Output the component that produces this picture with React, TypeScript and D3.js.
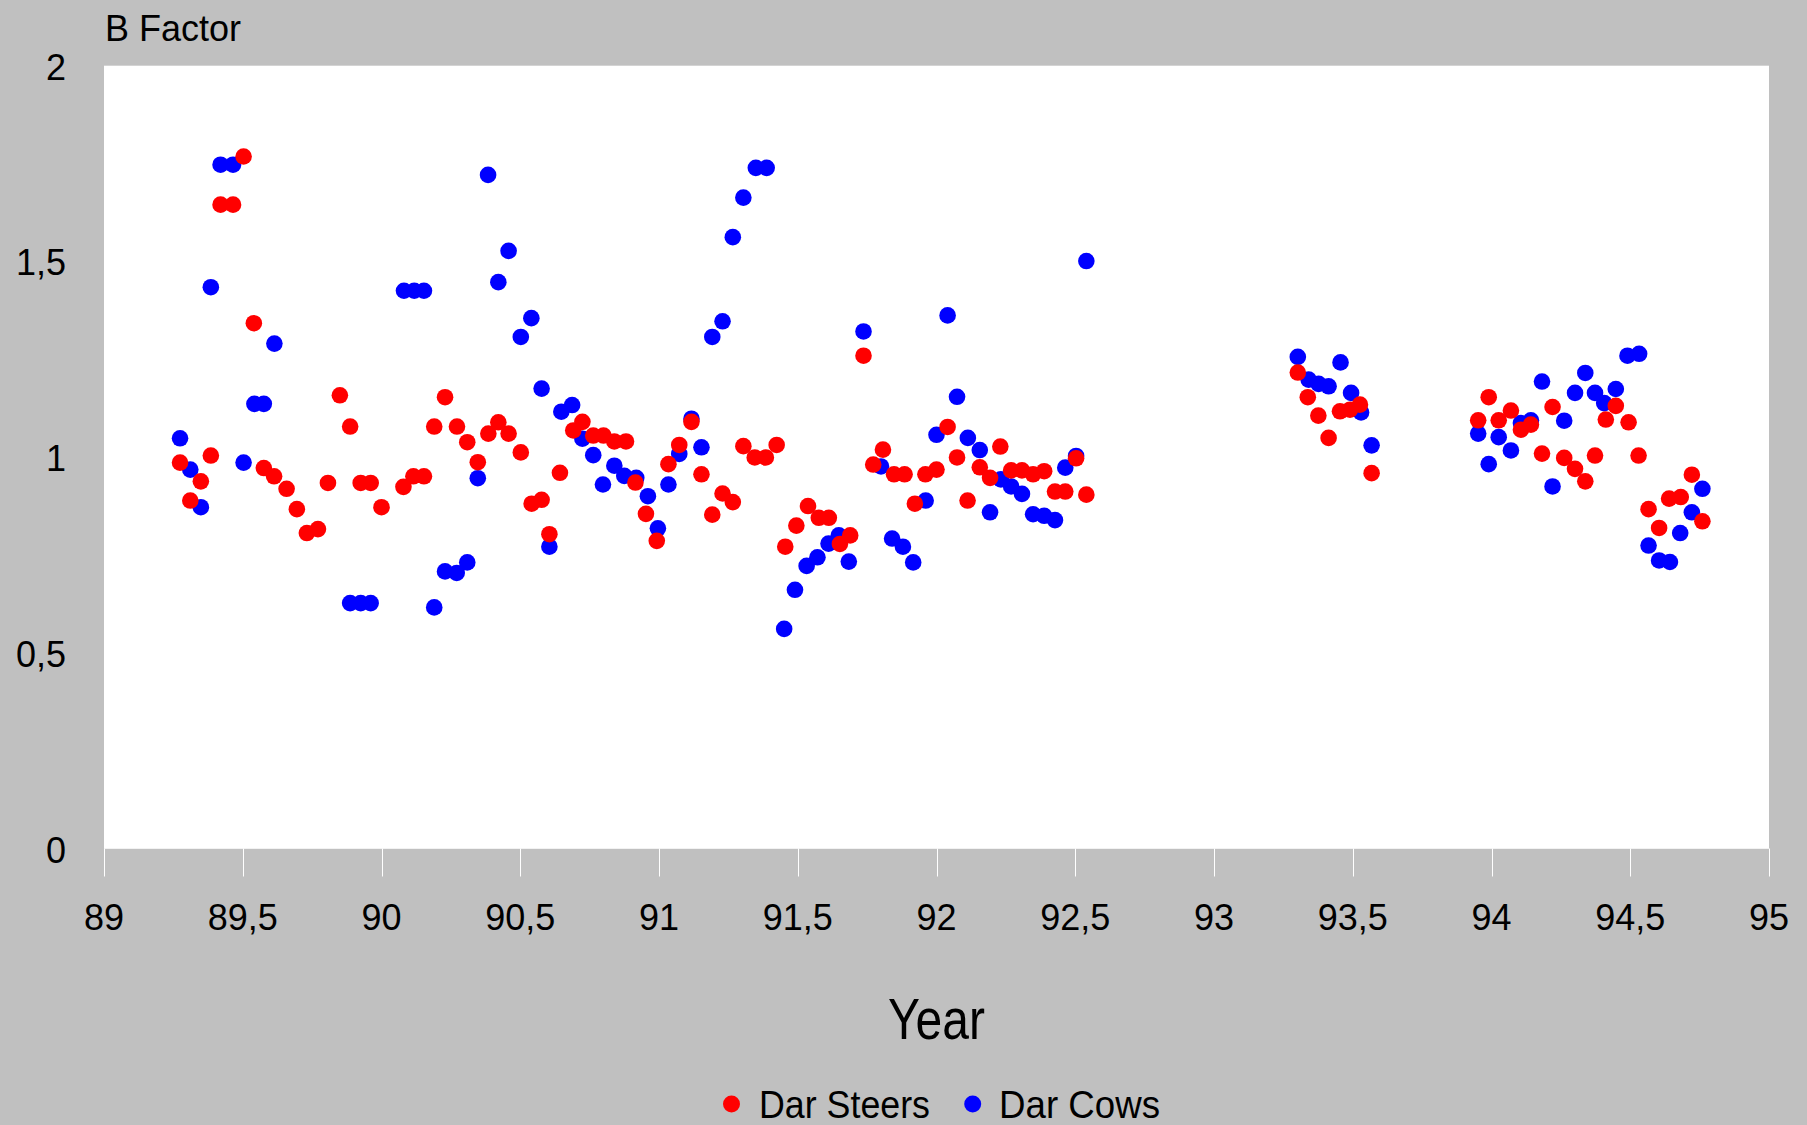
import React from "react";
import * as d3 from "d3";

const xTicks = [89, 89.5, 90, 90.5, 91, 91.5, 92, 92.5, 93, 93.5, 94, 94.5, 95];
const yTicks = [0, 0.5, 1, 1.5, 2];

// Dar Steers: [year, B factor]
const steers: [number, number][] = [
  [89.274, 0.986], [89.311, 0.889], [89.349, 0.938], [89.385, 1.004], [89.42, 1.645],
  [89.465, 1.645], [89.503, 1.768], [89.54, 1.342], [89.576, 0.972], [89.613, 0.951],
  [89.658, 0.919], [89.695, 0.867], [89.731, 0.806], [89.771, 0.816], [89.807, 0.934],
  [89.85, 1.158], [89.887, 1.078], [89.925, 0.934], [89.961, 0.934], [90.0, 0.872],
  [90.079, 0.924], [90.115, 0.951], [90.153, 0.951], [90.19, 1.078], [90.229, 1.153],
  [90.272, 1.078], [90.309, 1.038], [90.347, 0.987], [90.385, 1.06], [90.421, 1.089],
  [90.458, 1.06], [90.502, 1.012], [90.541, 0.881], [90.577, 0.891], [90.605, 0.803],
  [90.643, 0.96], [90.691, 1.068], [90.724, 1.09], [90.763, 1.055], [90.8, 1.055],
  [90.839, 1.04], [90.881, 1.04], [90.915, 0.935], [90.953, 0.855], [90.992, 0.786],
  [91.034, 0.982], [91.073, 1.031], [91.117, 1.09], [91.153, 0.956], [91.192, 0.853],
  [91.229, 0.907], [91.266, 0.885], [91.304, 1.028], [91.345, 0.999], [91.385, 0.999],
  [91.424, 1.031], [91.455, 0.771], [91.495, 0.825], [91.537, 0.875], [91.576, 0.845],
  [91.612, 0.845], [91.652, 0.778], [91.689, 0.8], [91.737, 1.259], [91.772, 0.981],
  [91.807, 1.019], [91.847, 0.956], [91.885, 0.956], [91.922, 0.881], [91.96, 0.956],
  [92.0, 0.968], [92.04, 1.077], [92.074, 0.999], [92.112, 0.889], [92.156, 0.974],
  [92.193, 0.947], [92.23, 1.027], [92.269, 0.966], [92.308, 0.966], [92.348, 0.956],
  [92.388, 0.964], [92.427, 0.912], [92.464, 0.912], [92.503, 0.997], [92.54, 0.904],
  [93.302, 1.216], [93.338, 1.153], [93.376, 1.106], [93.413, 1.049], [93.454, 1.117],
  [93.49, 1.121], [93.526, 1.134], [93.568, 0.959],
  [93.952, 1.094], [93.99, 1.153], [94.026, 1.094], [94.07, 1.119], [94.106, 1.07],
  [94.142, 1.083], [94.182, 1.009], [94.22, 1.128], [94.262, 0.998], [94.301, 0.97],
  [94.338, 0.938], [94.373, 1.004], [94.412, 1.096], [94.448, 1.131], [94.494, 1.089],
  [94.53, 1.004], [94.566, 0.867], [94.604, 0.819], [94.64, 0.894], [94.682, 0.898],
  [94.722, 0.955], [94.76, 0.836],
];

// Dar Cows: [year, B factor]
const cows: [number, number][] = [
  [89.274, 1.048], [89.311, 0.968], [89.349, 0.872], [89.385, 1.434], [89.42, 1.747],
  [89.465, 1.747], [89.503, 0.986], [89.542, 1.136], [89.576, 1.136], [89.614, 1.29],
  [89.887, 0.627], [89.925, 0.627], [89.961, 0.627], [90.081, 1.425], [90.118, 1.425],
  [90.153, 1.425], [90.19, 0.616], [90.229, 0.708], [90.271, 0.704], [90.309, 0.731],
  [90.347, 0.946], [90.384, 1.721], [90.421, 1.447], [90.458, 1.527], [90.502, 1.307],
  [90.54, 1.355], [90.577, 1.175], [90.605, 0.771], [90.648, 1.116], [90.687, 1.133],
  [90.724, 1.047], [90.763, 1.005], [90.798, 0.93], [90.839, 0.978], [90.875, 0.952],
  [90.918, 0.947], [90.96, 0.9], [90.996, 0.818], [91.034, 0.93], [91.073, 1.008],
  [91.117, 1.098], [91.153, 1.025], [91.192, 1.307], [91.229, 1.347], [91.266, 1.562],
  [91.304, 1.663], [91.349, 1.739], [91.388, 1.739], [91.451, 0.561], [91.49, 0.661],
  [91.532, 0.722], [91.571, 0.744], [91.611, 0.779], [91.648, 0.8], [91.684, 0.733],
  [91.737, 1.321], [91.8, 0.976], [91.84, 0.792], [91.879, 0.771], [91.916, 0.731],
  [91.961, 0.889], [92.0, 1.057], [92.04, 1.362], [92.074, 1.154], [92.113, 1.049],
  [92.156, 1.018], [92.193, 0.859], [92.232, 0.943], [92.269, 0.925], [92.308, 0.906],
  [92.348, 0.854], [92.388, 0.85], [92.427, 0.839], [92.464, 0.973], [92.503, 1.003],
  [92.54, 1.501],
  [93.302, 1.256], [93.341, 1.198], [93.377, 1.187], [93.413, 1.181], [93.456, 1.242],
  [93.494, 1.164], [93.53, 1.114], [93.568, 1.03],
  [93.952, 1.06], [93.99, 0.982], [94.026, 1.051], [94.07, 1.017], [94.106, 1.087],
  [94.142, 1.094], [94.182, 1.193], [94.22, 0.925], [94.262, 1.093], [94.301, 1.164],
  [94.338, 1.215], [94.373, 1.164], [94.406, 1.138], [94.448, 1.174], [94.49, 1.259],
  [94.532, 1.264], [94.566, 0.774], [94.604, 0.736], [94.643, 0.732], [94.68, 0.806],
  [94.722, 0.859], [94.76, 0.919],
];

const W = 1807;
const H = 1125;
const FONT = "'Liberation Sans', Arial, Helvetica, sans-serif";

const fmt = (v: number) => String(v).replace(".", ",");

export default function App() {
  const x = d3.scaleLinear().domain([89, 95]).range([104, 1769]);
  const y = d3.scaleLinear().domain([0, 2]).range([848.5, 65.7]);
  const r = 8.3;

  return (
    <svg
      width={W}
      height={H}
      style={{ position: "absolute", left: 0, top: 0, display: "block" }}
      fontFamily={FONT}
    >
      <rect x={0} y={0} width={W} height={H} fill="#c0c0c0" />
      <rect
        x={x(89)}
        y={y(2)}
        width={x(95) - x(89)}
        height={y(0) - y(2)}
        fill="#ffffff"
      />
      {/* x axis ticks */}
      <line x1={x(89)} x2={x(95)} y1={y(0)} y2={y(0)} stroke="#f2f2f2" strokeWidth={1} />
      {xTicks.map((t) => (
        <g key={"xt" + t}>
          <line
            x1={Math.round(x(t)) + 0.5}
            x2={Math.round(x(t)) + 0.5}
            y1={y(0)}
            y2={y(0) + 28}
            stroke="#ffffff"
            strokeWidth={1}
          />
          <text x={x(t)} y={930} textAnchor="middle" fontSize={36} fill="#000">
            {fmt(t)}
          </text>
        </g>
      ))}
      {/* y labels */}
      {yTicks.map((t) => (
        <text key={"yt" + t} x={66} y={y(t) + 14} textAnchor="end" fontSize={36} fill="#000">
          {fmt(t)}
        </text>
      ))}
      <text x={105} y={40.7} fontSize={36} fill="#000">
        B Factor
      </text>
      <text
        x={(x(89) + x(95)) / 2}
        y={1039}
        textAnchor="middle"
        fontSize={58}
        textLength={97}
        lengthAdjust="spacingAndGlyphs"
        fill="#000"
      >
        Year
      </text>
      {/* points: cows first, steers on top */}
      <g>
        {cows.map((d, i) => (
          <circle key={"c" + i} cx={x(d[0])} cy={y(d[1])} r={r} fill="#0000ff" />
        ))}
      </g>
      <g>
        {steers.map((d, i) => (
          <circle key={"s" + i} cx={x(d[0])} cy={y(d[1])} r={r} fill="#ff0000" />
        ))}
      </g>
      {/* legend */}
      <g>
        <circle cx={731.5} cy={1104} r={8.5} fill="#ff0000" />
        <text x={759} y={1118} fontSize={38} textLength={171} lengthAdjust="spacingAndGlyphs" fill="#000">
          Dar Steers
        </text>
        <circle cx={972.7} cy={1104} r={8.5} fill="#0000ff" />
        <text x={999} y={1118} fontSize={38} textLength={161} lengthAdjust="spacingAndGlyphs" fill="#000">
          Dar Cows
        </text>
      </g>
    </svg>
  );
}
